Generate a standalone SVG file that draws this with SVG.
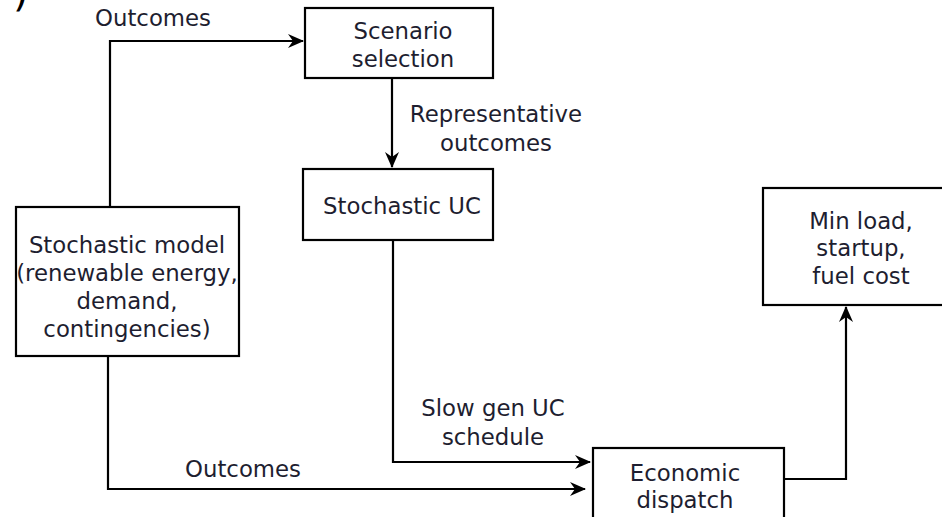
<svg xmlns="http://www.w3.org/2000/svg" width="942" height="517" viewBox="0 0 942 517">
<style>
.box{fill:#fff;stroke:#000;stroke-width:2.2}
.t{font-family:"DejaVu Sans",sans-serif;font-size:22.8px;fill:#1e1e30;text-anchor:middle}
.c{fill:none;stroke:#000;stroke-width:2.2}
</style>
<defs>
<marker id="ah" viewBox="0 0 16 14" refX="15" refY="7" markerWidth="16" markerHeight="14" markerUnits="userSpaceOnUse" orient="auto">
<path d="M0,0 L16,7 L0,14 L5,7 Z" fill="#000"/>
</marker>
</defs>
<rect width="942" height="517" fill="#fff"/>
<text x="13" y="6" style="font-family:'DejaVu Sans',sans-serif;font-size:40px;fill:#000">)</text>
<g id="connectors">
<path class="c" d="M110,207 V41 H303" marker-end="url(#ah)"/>
<path class="c" d="M392,78 V167" marker-end="url(#ah)"/>
<path class="c" d="M393,240 V462 H590" marker-end="url(#ah)"/>
<path class="c" d="M108,356 V489 H585" marker-end="url(#ah)"/>
<path class="c" d="M784,479 H846 V307" marker-end="url(#ah)"/>
<text class="t" x="153" y="26">Outcomes</text>
<text class="t" x="496" y="122">Representative</text>
<text class="t" x="496" y="151">outcomes</text>
<text class="t" x="493" y="416">Slow gen UC</text>
<text class="t" x="493" y="445">schedule</text>
<text class="t" x="243" y="477">Outcomes</text>
</g>
<g id="scenario">
<rect class="box" x="305" y="8" width="188" height="70"/>
<text class="t" x="403" y="39">Scenario</text>
<text class="t" x="403" y="67">selection</text>
</g>
<g id="stochastic-uc">
<rect class="box" x="303" y="169" width="190" height="71"/>
<text class="t" x="402" y="214">Stochastic UC</text>
</g>
<g id="stochastic-model">
<rect class="box" x="16" y="207" width="223" height="149"/>
<text class="t" x="127" y="253">Stochastic model</text>
<text class="t" x="127" y="281">(renewable energy,</text>
<text class="t" x="127" y="309">demand,</text>
<text class="t" x="127" y="337">contingencies)</text>
</g>
<g id="min-load">
<rect class="box" x="763" y="188" width="190" height="117"/>
<text class="t" x="861" y="229">Min load,</text>
<text class="t" x="861" y="256">startup,</text>
<text class="t" x="861" y="284">fuel cost</text>
</g>
<g id="economic-dispatch">
<rect class="box" x="593" y="448" width="191" height="80"/>
<text class="t" x="685" y="481">Economic</text>
<text class="t" x="685" y="508">dispatch</text>
</g>
</svg>
